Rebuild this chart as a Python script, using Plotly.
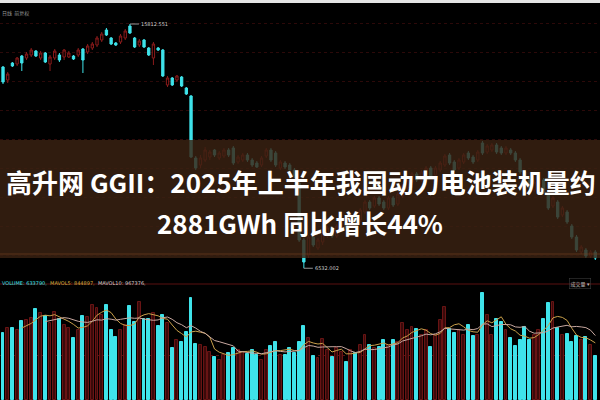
import plotly.graph_objects as go
import pandas as pd

# ---------------- data ----------------
open_ = [14179, 13685, 14331, 14293, 14597, 14521, 14635, 14787, 14521, 14711,
         14293, 14521, 14635, 14559, 14559, 14597, 14635, 14863, 14749, 14901,
         15015, 15205, 15585, 15281, 15091, 15129, 15281, 15737, 15281, 15015,
         15205, 14901, 14521, 14901, 14825, 13495, 13761, 13685, 13799, 13381,
         13077, 10721, 10455, 10645, 10759, 11025, 10721, 10797, 11025, 11101,
         10569, 10645, 10835, 10645, 10531, 10455, 10797, 11025, 10911, 10341,
         10531, 10455, 10265, 9771, 7605, 7035, 7719, 7301, 7529, 7757,
         8061, 7757, 8061, 8365, 8137, 8593, 8365, 8669, 9049, 8897,
         9201, 9049, 8821, 9201, 8973, 9277, 9581, 9809, 10113, 9885,
         10113, 10341, 10075, 10265, 10455, 10835, 10569, 10341, 10569, 10911,
         10759, 10645, 11291, 10949, 11025, 11215, 11101, 10911, 11025, 10911,
         10645, 10189, 9885, 9505, 9733, 9885, 9315, 8897, 9049, 8555,
         8669, 8137, 7719, 7149, 7225, 6997, 7149]
high = [14217, 13989, 14369, 14559, 14635, 14749, 14901, 14825, 14787, 14749,
        14635, 14863, 14711, 14863, 14787, 14635, 14901, 14901, 15053, 15129,
        15357, 15509, 15661, 15319, 15129, 15433, 15623, 15812.551, 15319, 15243,
        15243, 14939, 15129, 14939, 14863, 13837, 13799, 13875, 13837, 13419,
        13115, 10797, 10835, 11139, 11025, 11063, 10987, 11101, 11101, 11177,
        10835, 10911, 10911, 10721, 10607, 10797, 11101, 11101, 10987, 10645,
        10607, 10531, 10341, 9847, 7681, 7795, 7795, 7681, 7909, 8137,
        8137, 8213, 8441, 8441, 8593, 8669, 8821, 9125, 9125, 9277,
        9277, 9125, 9277, 9277, 9429, 9733, 9961, 10189, 10189, 10265,
        10417, 10417, 10417, 10607, 10873, 10911, 10645, 10721, 10911, 10987,
        10835, 11025, 11367, 11253, 11291, 11291, 11177, 11177, 11101, 10987,
        10721, 10265, 9961, 9885, 10037, 9961, 9391, 9277, 9125, 8897,
        8745, 8213, 7795, 7415, 7301, 7225, 7225]
low = [13533, 13571, 14179, 14217, 14027, 14445, 14559, 14559, 14445, 14331,
       14027, 14445, 14369, 14445, 14521, 14445, 14559, 13951, 14673, 14825,
       14939, 15129, 15357, 15015, 14977, 15053, 15205, 15433, 14901, 14939,
       14901, 14597, 14255, 14787, 13799, 13419, 13457, 13609, 13419, 13115,
       10721, 10265, 10341, 10569, 10645, 10759, 10645, 10721, 10759, 10455,
       10493, 10569, 10569, 10379, 10341, 10379, 10721, 10569, 10379, 10265,
       10303, 10189, 9961, 7529, 6532.002, 6921, 7339, 7225, 7415, 7681,
       7681, 7681, 7985, 7985, 8061, 8213, 8289, 8593, 8745, 8821,
       8897, 8745, 8745, 8859, 8897, 9201, 9505, 9733, 9809, 9809,
       10037, 9961, 9999, 10189, 10379, 10455, 10189, 10265, 10493, 10645,
       10493, 10569, 10835, 10873, 10949, 10873, 10835, 10835, 10835, 10569,
       10113, 9809, 9505, 9429, 9657, 9353, 8745, 8821, 8403, 8479,
       8213, 7643, 7149, 7073, 6921, 6921, 6845]
close = [13609, 13913, 14217, 14521, 14331, 14673, 14825, 14597, 14711, 14369,
         14559, 14787, 14445, 14825, 14711, 14483, 14825, 14445, 14977, 15053,
         15281, 15433, 15395, 15053, 15015, 15357, 15547, 15471, 14939, 15167,
         14939, 14635, 15053, 14825, 13837, 13761, 13495, 13837, 13457, 13153,
         10759, 10341, 10721, 11025, 10949, 10835, 10911, 11025, 10835, 10531,
         10759, 10835, 10645, 10455, 10379, 10721, 11025, 10645, 10455, 10569,
         10379, 10265, 10037, 7605, 6769, 7719, 7415, 7605, 7833, 8061,
         7757, 8137, 8365, 8061, 8517, 8289, 8745, 9049, 8821, 9201,
         8973, 8821, 9201, 8935, 9353, 9657, 9885, 10113, 9885, 10189,
         10341, 10037, 10341, 10531, 10797, 10531, 10265, 10645, 10835, 10721,
         10569, 10949, 10911, 11177, 11215, 10949, 10911, 11101, 10911, 10645,
         10189, 9885, 9581, 9809, 9961, 9429, 8821, 9201, 8479, 8821,
         8289, 7719, 7225, 7339, 6997, 7149, 6921]
volume = [975000, 1047000, 1047000, 1018000, 1149000, 1164000, 1193000, 1324000, 1265000, 1222000,
          1120000, 1280000, 1178000, 1091000, 1047000, 902000, 1018000, 1222000, 1207000, 1382000,
          1338000, 1236000, 1382000, 1018000, 916000, 1018000, 1091000, 1367000, 1135000, 1425000,
          1178000, 1178000, 1265000, 1076000, 1236000, 1120000, 756000, 873000, 844000, 989000,
          1484000, 815000, 800000, 771000, 698000, 625000, 582000, 655000, 684000, 756000,
          727000, 698000, 669000, 727000, 655000, 582000, 727000, 785000, 844000, 655000,
          655000, 756000, 684000, 844000, 1076000, 902000, 640000, 611000, 887000, 727000,
          625000, 756000, 698000, 553000, 727000, 684000, 800000, 945000, 800000, 756000,
          771000, 873000, 800000, 873000, 844000, 1120000, 1018000, 1062000, 1033000, 945000,
          1018000, 771000, 945000, 1164000, 1353000, 1033000, 975000, 1018000, 945000, 1091000,
          931000, 945000, 1556000, 1236000, 945000, 1178000, 1135000, 1018000, 902000, 785000,
          873000, 1062000, 873000, 945000, 1018000, 1178000, 1411000, 1425000, 1047000, 945000,
          960000, 844000, 931000, 873000, 916000, 800000, 633790]

title_line1 = "高升网 GGII：2025年上半年我国动力电池装机量约"
title_line2 = "2881GWh 同比增长44%"
vol_label = "VOLUME: 633790,"
ma5_label = "MAVOL5: 844897,"
ma10_label = "MAVOL10: 967376,"
panel_label = "成交量 ▾"
top_left_label = "日线  前复权"

# ---------------- figure ----------------
W, H = 600, 400
n = len(open_)
x = list(range(n))
up = [c >= o for o, c in zip(open_, close)]
RED = "#8a1b1b"
CYAN = "#3fe3ea"
vol_fill = ["#3a0a0a" if u else CYAN for u in up]
vol_edge = ["#681414" if u else CYAN for u in up]

ma5 = pd.Series(volume).rolling(5).mean()
ma10 = pd.Series(volume).rolling(10).mean()

fig = go.Figure()
fig.add_trace(go.Bar(x=x, y=volume, width=0.62,
                     marker=dict(color=vol_fill, line=dict(color=vol_edge, width=1)),
                     xaxis="x", yaxis="y2", showlegend=False, hoverinfo="skip"))
fig.add_trace(go.Scatter(x=x, y=ma5, mode="lines", line=dict(color="#c9a04a", width=1),
                         xaxis="x", yaxis="y2", showlegend=False, hoverinfo="skip"))
fig.add_trace(go.Scatter(x=x, y=ma10, mode="lines", line=dict(color="#c8a8a0", width=1),
                         xaxis="x", yaxis="y2", showlegend=False, hoverinfo="skip"))
fig.add_trace(go.Candlestick(
    x=x, open=open_, high=high, low=low, close=close,
    increasing=dict(line=dict(color=RED, width=1), fillcolor="rgba(0,0,0,0)"),
    decreasing=dict(line=dict(color=CYAN, width=1), fillcolor=CYAN),
    whiskerwidth=0, xaxis="x", yaxis="y", showlegend=False, hoverinfo="skip"))

def py(px):
    return 1 - px / H

i_hi = max(range(n), key=lambda i: high[i])
i_lo = min(range(n), key=lambda i: low[i])

annotations = [
    dict(x=i_hi, y=high[i_hi], xref="x", yref="y", text=f"{high[i_hi]:.3f}",
         showarrow=True, arrowhead=0, arrowwidth=0.8, arrowcolor="#bbbbbb",
         ax=9, ay=0, xanchor="left", font=dict(size=5, color="#cfcfcf", family="DejaVu Sans")),
    dict(x=i_lo, y=low[i_lo], xref="x", yref="y", text=f"{low[i_lo]:.3f}",
         showarrow=True, arrowhead=0, arrowwidth=0.8, arrowcolor="#bbbbbb",
         ax=9, ay=0, xanchor="left", font=dict(size=5, color="#cfcfcf", family="DejaVu Sans")),
    dict(x=0.502, y=py(181), xref="paper", yref="paper", showarrow=False,
         text=title_line1, font=dict(size=26, color="white", family="Noto Sans CJK SC", weight="bold")),
    dict(x=0.5, y=py(222), xref="paper", yref="paper", showarrow=False,
         text=title_line2, font=dict(size=26, color="white", family="Noto Sans CJK SC", weight="bold")),
    dict(x=0.0, y=py(288), xref="paper", yref="paper", showarrow=False, xanchor="left",
         text=(f"<span style='color:{CYAN}'>{vol_label}</span>  "
               f"<span style='color:#d8b040'>{ma5_label}</span>  "
               f"<span style='color:#d8d0d0'>{ma10_label}</span>"),
         font=dict(size=5, family="DejaVu Sans")),
    dict(x=0.985, y=py(289), xref="paper", yref="paper", showarrow=False, xanchor="right",
         text=panel_label, font=dict(size=5, color="#bbbbbb", family="Noto Sans CJK SC"),
         bordercolor="#444", borderwidth=0.5, borderpad=1),
    dict(x=0.0, y=py(7), xref="paper", yref="paper", showarrow=False, xanchor="left",
         text=top_left_label, font=dict(size=5, color="#9a9a9a", family="Noto Sans CJK SC")),
]

shapes = [
    dict(type="rect", xref="paper", yref="paper", x0=0, x1=1, y0=py(3), y1=1,
         fillcolor="#e4e4e4", line=dict(width=0), layer="above"),
    dict(type="line", xref="paper", yref="paper", x0=0, x1=1, y0=py(284), y1=py(284),
         line=dict(color="#5a1010", width=1)),
    dict(type="rect", xref="paper", yref="paper", x0=0, x1=1, y0=py(258), y1=py(140),
         fillcolor="rgba(58,34,18,0.82)", line=dict(width=0), layer="above"),
    dict(type="line", xref="paper", yref="paper", x0=0, x1=1, y0=py(254), y1=py(254),
         line=dict(color="rgba(120,66,34,0.6)", width=1), layer="above"),
]

fig.update_layout(
    width=W, height=H, margin=dict(l=0, r=0, t=0, b=0),
    paper_bgcolor="black", plot_bgcolor="black",
    bargap=0, showlegend=False,
    xaxis=dict(range=[-0.64, 127.0], showgrid=False, showticklabels=False, zeroline=False,
               showline=False, rangeslider=dict(visible=False), anchor="y2"),
    yaxis=dict(domain=[py(284), py(5)], range=[5933, 16535], showticklabels=False,
               zeroline=False, showline=False, gridcolor="#2c0909", griddash="dot",
               tick0=5933, dtick=1100),
    yaxis2=dict(domain=[0, py(290)], range=[0, 1600000], showticklabels=False,
                zeroline=False, showline=False, tickvals=[654000],
                gridcolor="#5a1212", griddash="dot"),
    annotations=annotations, shapes=shapes,
)

fig.write_html("out.html", config={"displayModeBar": False},
               post_script="document.body.style.margin='0';document.body.style.overflow='hidden';document.body.style.background='black';")
